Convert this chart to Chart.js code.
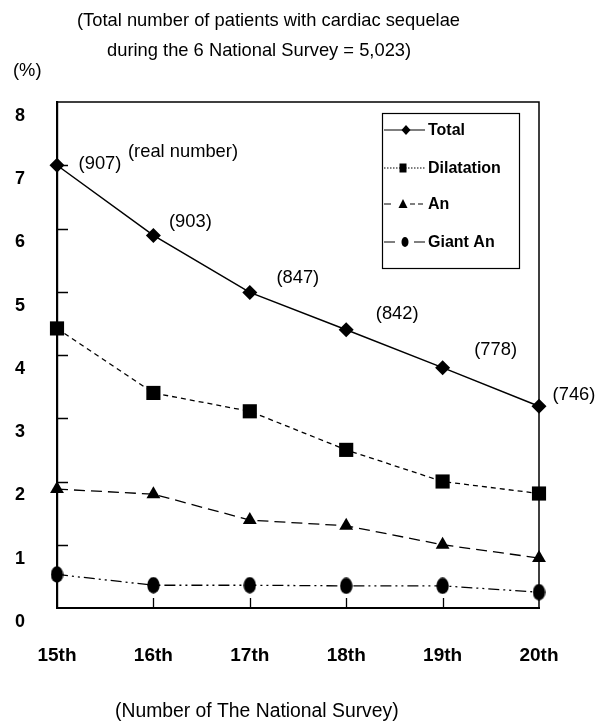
<!DOCTYPE html>
<html>
<head>
<meta charset="utf-8">
<style>
  html, body { margin: 0; padding: 0; background: #ffffff; }
  canvas { display: block; }
</style>
<script src="https://cdn.jsdelivr.net/npm/chart.js@4/dist/chart.umd.min.js"></script>
</head>
<body>
<canvas id="chart" width="601" height="722"></canvas>
<script>
// Survey rounds (x categories)
const surveys = ['15th', '16th', '17th', '18th', '19th', '20th'];

// Prevalence of cardiac sequelae (%) per survey
const totalPct      = [7.00, 5.89, 4.99, 4.40, 3.80, 3.19];
const dilatationPct = [4.42, 3.40, 3.11, 2.50, 2.00, 1.81];
const aneurysmPct   = [1.88, 1.80, 1.39, 1.30, 1.00, 0.79];
const giantPct      = [0.53, 0.36, 0.36, 0.35, 0.35, 0.25];

// Number of patients with sequelae per survey (labels on the Total line)
const patientCounts = [907, 903, 847, 842, 778, 746];

// Y axis range / step
const yMin = 0, yMax = 8, yStep = 1;

// Label placement offsets (px) relative to each Total point
const countLabelDx = [43, 37, 48, 51, 53, 35];
const countLabelDy = [-1, -14, -14, -16, -18, -11];

const FONT = '"Liberation Sans", Arial, sans-serif';

// Oval marker used for the Giant An series
function makeOval(w, h) {
  const c = document.createElement('canvas');
  c.width = w; c.height = h;
  const g = c.getContext('2d');
  g.fillStyle = '#000';
  g.beginPath();
  g.ellipse(w / 2, h / 2, w / 2 - 0.3, h / 2 - 0.3, 0, 0, Math.PI * 2);
  g.fill();
  return c;
}
const ovalBig = makeOval(13, 17);

function fitFont(ctx, text, width, weight) {
  ctx.font = weight + ' 20px ' + FONT;
  const w = ctx.measureText(text).width;
  return 20 * width / w;
}

// Frame, inner tick marks, free text, point counts and legend
const decorations = {
  id: 'decorations',
  afterDraw(chart) {
    const ctx = chart.ctx;
    const area = chart.chartArea;
    const xs = chart.scales.x;
    const ys = chart.scales.y;
    ctx.save();

    // top and right frame
    ctx.strokeStyle = '#000';
    ctx.lineWidth = 1.5;
    ctx.beginPath();
    ctx.moveTo(area.left, area.top);
    ctx.lineTo(area.right, area.top);
    ctx.lineTo(area.right, area.bottom);
    ctx.stroke();

    // inner tick marks
    ctx.lineWidth = 1.3;
    ctx.beginPath();
    ys.ticks.forEach(t => {
      if (t.value <= yMin || t.value >= yMax) return;
      const py = Math.round(ys.getPixelForValue(t.value)) + 0.5;
      ctx.moveTo(area.left, py);
      ctx.lineTo(area.left + 11, py);
    });
    surveys.forEach((s, i) => {
      if (i === 0 || i === surveys.length - 1) return;
      const px = Math.round(xs.getPixelForValue(i)) + 0.5;
      ctx.moveTo(px, area.bottom);
      ctx.lineTo(px, area.bottom - 10);
    });
    ctx.stroke();

    // free text
    const regSize = fitFont(ctx, '(Total number of patients with cardiac sequelae', 383, 'normal');
    ctx.fillStyle = '#000';
    ctx.textBaseline = 'middle';
    ctx.textAlign = 'left';
    ctx.font = 'normal ' + regSize.toFixed(2) + 'px ' + FONT;
    ctx.fillText('(Total number of patients with cardiac sequelae', 77, 21);
    ctx.fillText('during the 6 National Survey = 5,023)', 107, 51);
    ctx.fillText('(%)', 13, 71);
    ctx.fillText('(real number)', 128, 152);
    ctx.font = 'normal ' + (regSize + 1).toFixed(2) + 'px ' + FONT;
    ctx.fillText('(Number of The National Survey)', 115, 712);

    // patient counts next to the Total line
    ctx.font = 'normal ' + regSize.toFixed(2) + 'px ' + FONT;
    ctx.textAlign = 'center';
    const meta = chart.getDatasetMeta(0);
    meta.data.forEach((pt, i) => {
      ctx.fillText('(' + patientCounts[i] + ')', pt.x + countLabelDx[i], pt.y + countLabelDy[i]);
    });

    // legend
    const lx = 382.5, ly = 113.5, lw = 137, lh = 155;
    ctx.fillStyle = '#fff';
    ctx.fillRect(lx, ly, lw, lh);
    ctx.strokeStyle = '#000';
    ctx.lineWidth = 1.2;
    ctx.strokeRect(lx, ly, lw, lh);

    const rows = [
      { label: 'Total',      y: 130, dash: [],         segs: [[384, 425]], mark: 'diamond', mx: 406 },
      { label: 'Dilatation', y: 168, dash: [1.5, 1.5], segs: [[384, 425]], mark: 'square', mx: 403 },
      { label: 'An',         y: 204, dash: [],         segs: [[384, 391], [410, 415], [418, 423]], mark: 'triangle', mx: 403 },
      { label: 'Giant An',   y: 242, dash: [],         segs: [[384, 395], [414, 425]], mark: 'oval', mx: 405 }
    ];
    rows.forEach(r => {
      ctx.strokeStyle = '#000';
      ctx.lineWidth = 1.2;
      ctx.setLineDash(r.dash);
      ctx.beginPath();
      r.segs.forEach(sg => {
        ctx.moveTo(sg[0], r.y);
        ctx.lineTo(sg[1], r.y);
      });
      ctx.stroke();
      ctx.setLineDash([]);
      ctx.fillStyle = '#000';
      ctx.beginPath();
      if (r.mark === 'diamond') {
        ctx.moveTo(r.mx, r.y - 5); ctx.lineTo(r.mx + 4.5, r.y);
        ctx.lineTo(r.mx, r.y + 5); ctx.lineTo(r.mx - 4.5, r.y); ctx.closePath();
      } else if (r.mark === 'square') {
        ctx.rect(r.mx - 3.5, r.y - 4.5, 7, 9);
      } else if (r.mark === 'triangle') {
        ctx.moveTo(r.mx, r.y - 5); ctx.lineTo(r.mx + 4.5, r.y + 4);
        ctx.lineTo(r.mx - 4.5, r.y + 4); ctx.closePath();
      } else {
        ctx.ellipse(r.mx, r.y, 3.5, 5, 0, 0, Math.PI * 2);
      }
      ctx.fill();
      ctx.textAlign = 'left';
      ctx.textBaseline = 'middle';
      ctx.font = 'bold 16px ' + FONT;
      ctx.fillText(r.label, 428, r.y + 1);
    });

    ctx.restore();
  }
};

const common = {
  borderColor: '#000',
  backgroundColor: '#000',
  pointBackgroundColor: '#000',
  pointBorderColor: '#000',
  pointBorderWidth: 0,
  pointHoverRadius: 0,
  fill: false,
  tension: 0,
  clip: false
};

new Chart(document.getElementById('chart'), {
  type: 'line',
  data: {
    labels: surveys,
    datasets: [
      Object.assign({}, common, {
        label: 'Total', data: totalPct,
        borderWidth: 1.5, borderDash: [],
        pointStyle: 'rectRot', pointRadius: 7.5
      }),
      Object.assign({}, common, {
        label: 'Dilatation', data: dilatationPct,
        borderWidth: 1.3, borderDash: [5, 4],
        pointStyle: 'rect', pointRadius: 10
      }),
      Object.assign({}, common, {
        label: 'An', data: aneurysmPct,
        borderWidth: 1.3, borderDash: [11, 6],
        pointStyle: 'triangle', pointRadius: 8
      }),
      Object.assign({}, common, {
        label: 'Giant An', data: giantPct,
        borderWidth: 1.3, borderDash: [11, 4, 2, 4, 2, 4],
        pointStyle: ovalBig, pointRadius: 8
      })
    ]
  },
  options: {
    responsive: false,
    devicePixelRatio: 1,
    animation: false,
    events: [],
    layout: { padding: { left: 0, right: 62, top: 102, bottom: 0 } },
    plugins: {
      legend: { display: false },
      title: { display: false },
      tooltip: { enabled: false }
    },
    scales: {
      x: {
        type: 'category',
        offset: false,
        grid: { display: false, drawTicks: false },
        border: { display: true, color: '#000', width: 2 },
        ticks: {
          color: '#000',
          padding: 36,
          maxRotation: 0,
          autoSkip: false,
          font: { family: FONT, weight: 'bold', size: 19 }
        },
        afterFit(scale) { scale.height = 114; }
      },
      y: {
        min: yMin,
        max: yMax,
        grid: { display: false, drawTicks: false },
        border: { display: true, color: '#000', width: 2.2 },
        ticks: {
          stepSize: yStep,
          color: '#000',
          padding: 32,
          labelOffset: 14,
          font: { family: FONT, weight: 'bold', size: 18 }
        },
        afterFit(scale) { scale.width = 57; }
      }
    }
  },
  plugins: [decorations]
});
</script>
</body>
</html>
